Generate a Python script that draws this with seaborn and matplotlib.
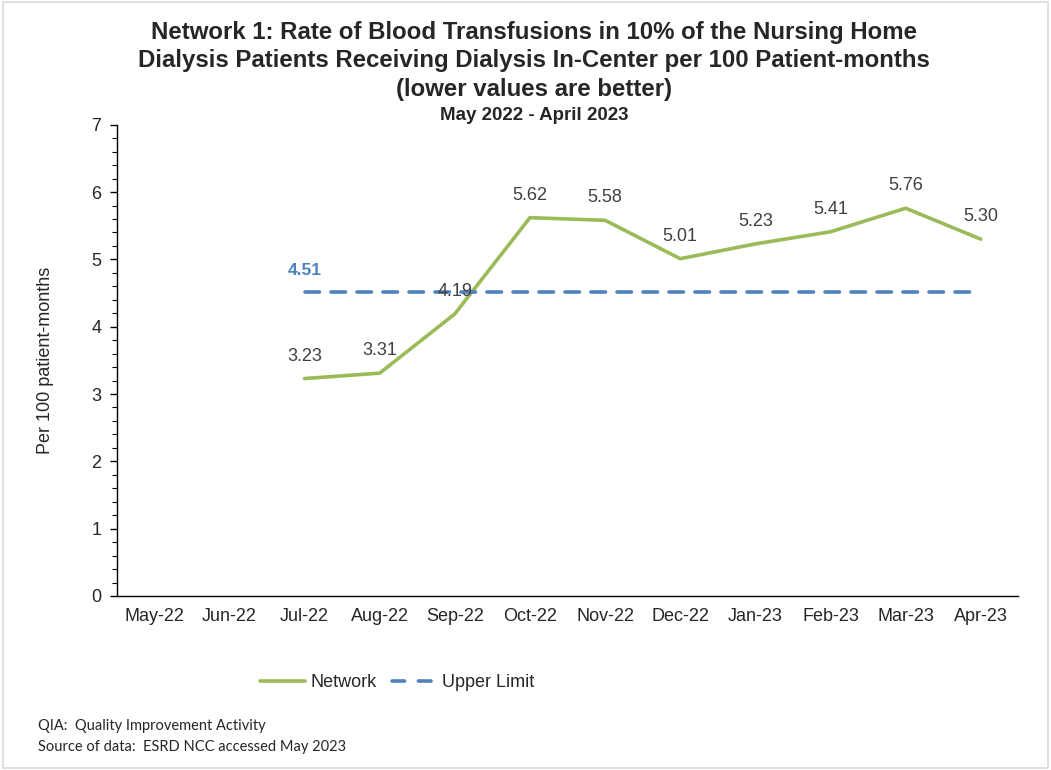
import matplotlib
matplotlib.use("Agg")
import matplotlib.pyplot as plt
import numpy as np
import pandas as pd
import seaborn as sns

months = ["May-22", "Jun-22", "Jul-22", "Aug-22", "Sep-22", "Oct-22",
          "Nov-22", "Dec-22", "Jan-23", "Feb-23", "Mar-23", "Apr-23"]
network = [np.nan, np.nan, 3.23, 3.31, 4.19, 5.62, 5.58, 5.01, 5.23, 5.41,
           5.76, 5.30]
upper_limit = [np.nan, np.nan, 4.51, 4.51, 4.51, 4.51, 4.51, 4.51, 4.51,
               4.51, 4.51, 4.51]
y_ticks = [0, 1, 2, 3, 4, 5, 6, 7]

GREEN = "#9BBB59"
BLUE = "#4F81BD"
LABEL_GRAY = "#404040"

sns.set_style("white")
plt.rcParams["font.family"] = ["Liberation Sans", "DejaVu Sans"]
plt.rcParams["font.sans-serif"] = ["Liberation Sans", "DejaVu Sans"]

df = pd.DataFrame({"pos": np.arange(len(months)), "month": months,
                   "Network": network, "Upper Limit": upper_limit})

fig = plt.figure(figsize=(10.51, 7.70), dpi=100)
ax = fig.add_axes([0.111, 0.226, 0.858, 0.612])

sns.lineplot(data=df, x="pos", y="Network", ax=ax, color=GREEN,
             linewidth=2.6, label="Network")
sns.lineplot(data=df, x="pos", y="Upper Limit", ax=ax, color=BLUE,
             linewidth=2.6, label="Upper Limit")
ax.lines[1].set_dashes([4, 3.2])
ax.lines[1].set_dash_capstyle("round")

for x, v in zip(df["pos"], network):
    if not np.isnan(v):
        ax.annotate(f"{v:.2f}", (x, v), xytext=(0, 10),
                    textcoords="offset points", ha="center", va="bottom",
                    fontsize=13, color=LABEL_GRAY)
first = int(np.where(~np.isnan(upper_limit))[0][0])
ax.annotate(f"{upper_limit[first]:.2f}", (first, upper_limit[first]),
            xytext=(0, 10), textcoords="offset points", ha="center",
            va="bottom", fontsize=12.5, color=BLUE, fontweight="bold")

ax.set_xlim(-0.5, len(months) - 0.5)
ax.set_ylim(0, 7)
ax.set_yticks(y_ticks)
ax.set_yticks(np.arange(0, 7.01, 0.2), minor=True)
ax.set_xticks(df["pos"])
ax.set_xticklabels(months)
ax.set_xticks(np.arange(-0.5, len(months)), minor=True)
ax.tick_params(axis="x", which="major", length=0, labelsize=13, pad=9)
ax.tick_params(axis="x", which="minor", length=6, width=1,
               color="black", direction="inout")
ax.tick_params(axis="y", which="major", length=5, width=1, color="black",
               direction="out", labelsize=13, left=True, pad=6)
ax.tick_params(axis="y", which="minor", length=3.5, width=0.8,
               color="black", direction="out", left=True)
ax.set_xlabel("")
ax.set_ylabel("Per 100 patient-months", fontsize=13, labelpad=27)
for side in ["top", "right"]:
    ax.spines[side].set_visible(False)
for side in ["left", "bottom"]:
    ax.spines[side].set_color("black")
    ax.spines[side].set_linewidth(1)

leg = ax.legend(loc="center", bbox_to_anchor=(0.378, 0.113),
                bbox_transform=fig.transFigure, ncol=2, frameon=False,
                fontsize=13, handlelength=2.5, columnspacing=0.8,
                handletextpad=0.3)
leg.get_lines()[1].set_dashes([3.5, 3.8])

fig.text(0.508, 0.973, "Network 1: Rate of Blood Transfusions in 10% of the "
         "Nursing Home\nDialysis Patients Receiving Dialysis In-Center per "
         "100 Patient-months\n(lower values are better)", ha="center",
         va="top", fontsize=17.3, fontweight="bold", linespacing=1.3)
fig.text(0.508, 0.850, "May 2022 - April 2023", ha="center", va="center",
         fontsize=13.5, fontweight="bold")

fig.text(0.036, 0.0435, "QIA:  Quality Improvement Activity\n"
         "Source of data:  ESRD NCC accessed May 2023", ha="left",
         va="center", fontsize=10.5, family=["Lato", "DejaVu Sans"],
         linespacing=1.55)

fig.add_artist(plt.Rectangle((0.003, 0.003), 0.994, 0.994, fill=False,
                             edgecolor="#D9D9D9", linewidth=1.2,
                             transform=fig.transFigure))

fig.savefig("out.png", dpi=100)
